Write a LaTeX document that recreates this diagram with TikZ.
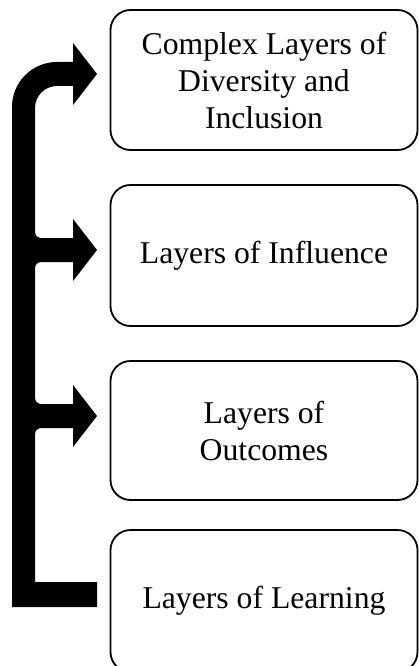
\documentclass[tikz,border=0pt]{standalone}
\usepackage{fontspec}
\setmainfont{Liberation Serif}
\begin{document}
\begin{tikzpicture}[x=1pt,y=-1pt,
  layerbox/.style={draw=black, line width=1.8pt, rounded corners=20pt, fill=white,
    minimum width=307pt, align=center, inner sep=0pt,
    font=\fontsize{31.7}{37}\selectfont},
  bentarrow/.style={fill=black}]
\useasboundingbox (0,0) rectangle (419,666);
\node[layerbox, minimum height=140pt] (b1) at (264,80) {Complex Layers of\\Diversity and\\Inclusion};
\node[layerbox, minimum height=141pt] (b2) at (264,255.5) {Layers of Influence};
\node[layerbox, minimum height=139pt] (b3) at (264,430.5) {Layers of\\Outcomes};
\node[layerbox, minimum height=142pt] (b4) at (264,601) {Layers of Learning};
\fill[bentarrow] (12,607) -- (12,107)
  .. controls (12,82.1) and (32.1,62) .. (57,62) -- (73,62) -- (73,43) -- (97,74)
  -- (73,105) -- (73,86) -- (57,86)
  .. controls (44.8,86) and (35,95.8) .. (35,108)
  -- (35,232) .. controls (35,235.3) and (37.7,238) .. (41,238)
  -- (73,238) -- (73,219) -- (97,250) -- (73,281) -- (73,262) -- (41,262)
  .. controls (37.7,262) and (35,264.7) .. (35,268)
  -- (35,398) .. controls (35,401.3) and (37.7,404) .. (41,404)
  -- (73,404) -- (73,385) -- (97,416) -- (73,447) -- (73,428) -- (41,428)
  .. controls (37.7,428) and (35,430.7) .. (35,434)
  -- (35,582) -- (97,582) -- (97,607) -- cycle;
\end{tikzpicture}
\end{document}
